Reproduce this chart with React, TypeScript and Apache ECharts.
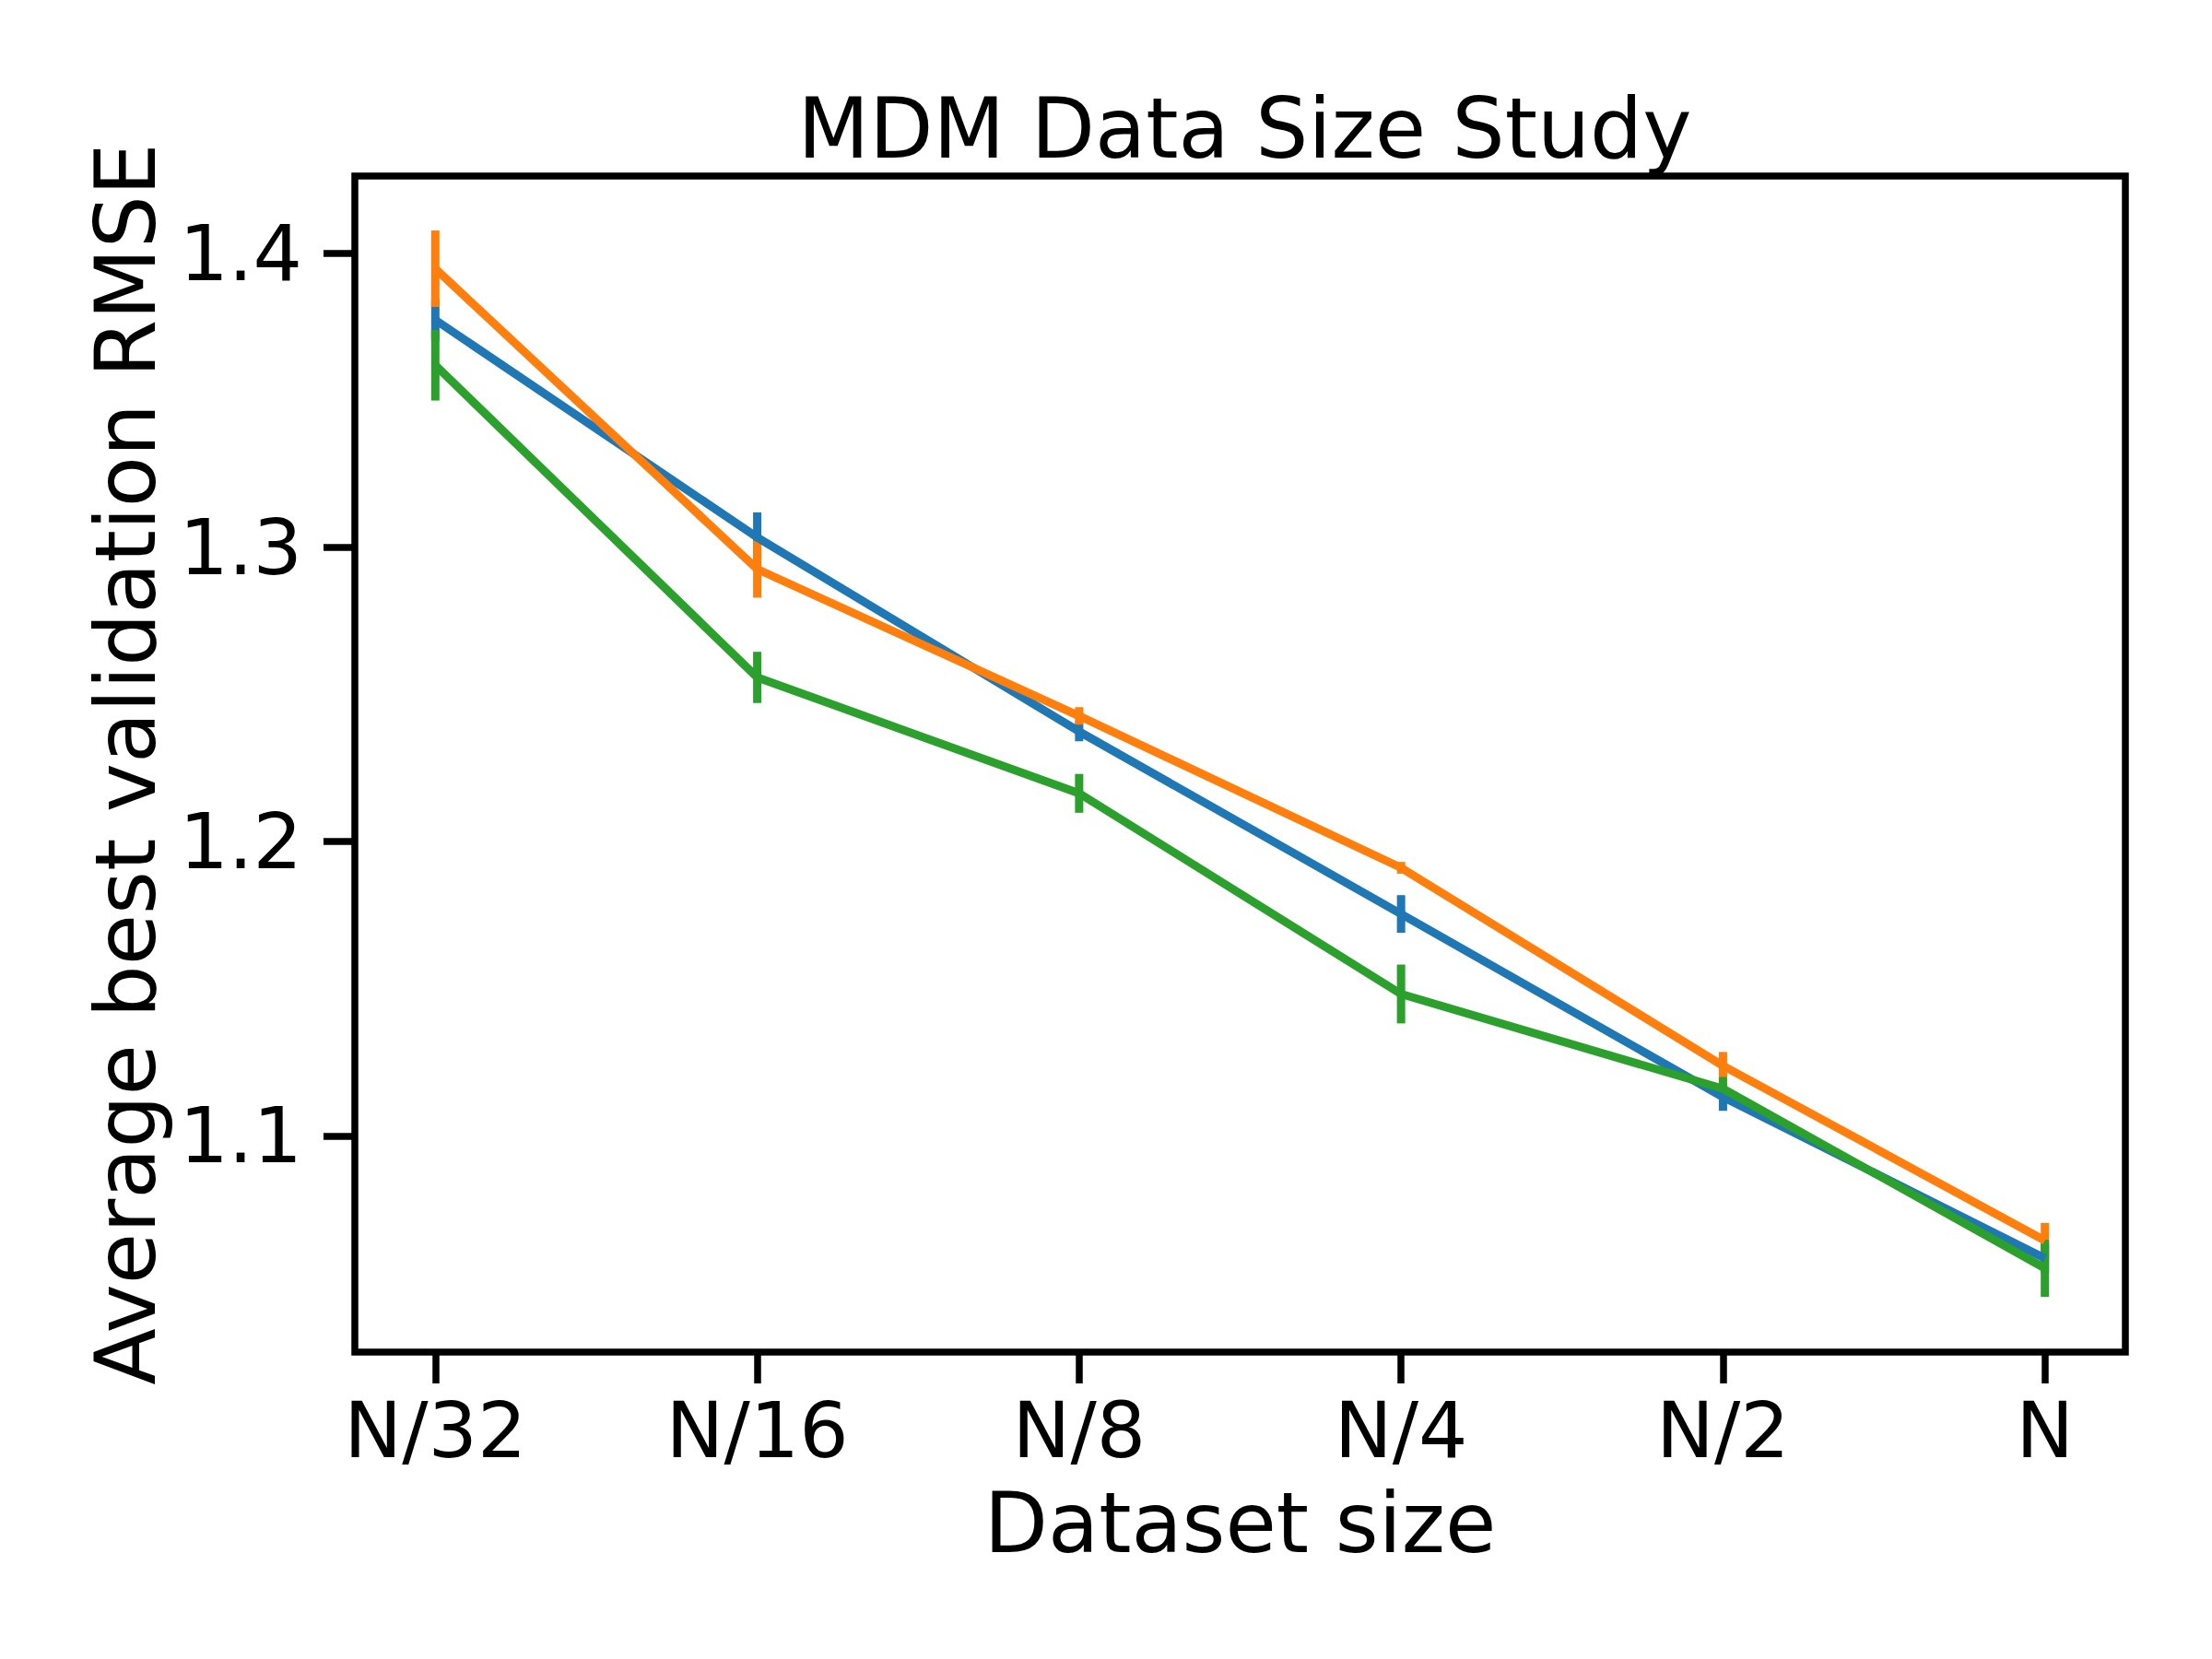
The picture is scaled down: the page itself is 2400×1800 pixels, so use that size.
import React, { useEffect, useRef } from "react";
import * as echarts from "echarts";

const categories = ["N/32", "N/16", "N/8", "N/4", "N/2", "N"];
const xTicks = [0, 1, 2, 3, 4, 5];
const yTicks = [1.1, 1.2, 1.3, 1.4];

const blueMean = [1.3773, 1.3034, 1.2374, 1.1754, 1.1132, 1.0584];
const blueErr = [0.007, 0.0085, 0.0033, 0.0064, 0.0047, 0.005];
const orangeMean = [1.3947, 1.2926, 1.2427, 1.1911, 1.1238, 1.0644];
const orangeErr = [0.013, 0.0097, 0.003, 0.002, 0.0047, 0.006];
const greenMean = [1.3619, 1.2558, 1.2164, 1.1482, 1.116, 1.055];
const greenErr = [0.012, 0.0087, 0.0066, 0.01, 0.004, 0.0097];

const FONT = "DejaVu Sans";

export default function App() {
  const ref = useRef<HTMLDivElement>(null);

  useEffect(() => {
    document.body.style.margin = "0";
    if (!ref.current) return;
    const chart = echarts.init(ref.current, undefined, { renderer: "svg" });

    const groups = [
      { name: "blue", color: "#1f77b4", mean: blueMean, err: blueErr },
      { name: "orange", color: "#ff7f0e", mean: orangeMean, err: orangeErr },
      { name: "green", color: "#2ca02c", mean: greenMean, err: greenErr },
    ];

    const series: any[] = [];
    groups.forEach((g) => {
      series.push({
        type: "line",
        name: g.name,
        data: g.mean.map((v, i) => [i, v]),
        symbol: "none",
        showSymbol: false,
        lineStyle: { color: g.color, width: 9 },
        itemStyle: { color: g.color },
        silent: true,
      });
      series.push({
        type: "custom",
        name: g.name + " err",
        data: g.mean.map((v, i) => [i, v - g.err[i], v + g.err[i]]),
        encode: { x: 0, y: [1, 2] },
        silent: true,
        renderItem: (params: any, api: any) => {
          const x = api.value(0);
          const p1 = api.coord([x, api.value(1)]);
          const p2 = api.coord([x, api.value(2)]);
          return {
            type: "line",
            shape: { x1: p1[0], y1: p1[1], x2: p2[0], y2: p2[1] },
            style: { stroke: g.color, lineWidth: 9, lineCap: "butt" },
          };
        },
      });
    });

    chart.setOption({
      animation: false,
      backgroundColor: "#ffffff",
      title: {
        text: "MDM Data Size Study",
        left: 1345.5,
        top: 89,
        textAlign: "center",
        textStyle: { fontSize: 90, fontWeight: "normal", fontFamily: FONT, color: "#000" },
      },
      grid: {
        left: 385,
        right: 94,
        top: 191,
        bottom: 333,
        show: true,
        borderColor: "#000",
        borderWidth: 7.5,
        backgroundColor: "transparent",
      },
      xAxis: {
        type: "value",
        min: -0.25,
        max: 5.25,
        name: "Dataset size",
        nameLocation: "middle",
        nameGap: 140,
        nameTextStyle: { fontSize: 90, fontFamily: FONT, color: "#000" },
        axisLine: { show: false, onZero: false },
        splitLine: { show: false },
        axisTick: {
          show: true,
          inside: false,
          length: 34,
          lineStyle: { color: "#000", width: 7.5 },
          customValues: xTicks,
        },
        axisLabel: {
          customValues: xTicks,
          formatter: (v: number) => categories[Math.round(v)] ?? "",
          fontSize: 84,
          fontFamily: FONT,
          color: "#000",
          margin: 43,
        },
      },
      yAxis: {
        type: "value",
        min: 1.0265,
        max: 1.4262,
        name: "Average best validation RMSE",
        nameLocation: "middle",
        nameGap: 204,
        nameTextStyle: { fontSize: 90, fontFamily: FONT, color: "#000" },
        axisLine: { show: false, onZero: false },
        splitLine: { show: false },
        axisTick: {
          show: true,
          inside: false,
          length: 34,
          lineStyle: { color: "#000", width: 7.5 },
          customValues: yTicks,
        },
        axisLabel: {
          customValues: yTicks,
          formatter: (v: number) => v.toFixed(1),
          fontSize: 84,
          fontFamily: FONT,
          color: "#000",
          margin: 57,
        },
      },
      series,
    });

    return () => chart.dispose();
  }, []);

  return <div ref={ref} style={{ width: 2400, height: 1800 }} />;
}
